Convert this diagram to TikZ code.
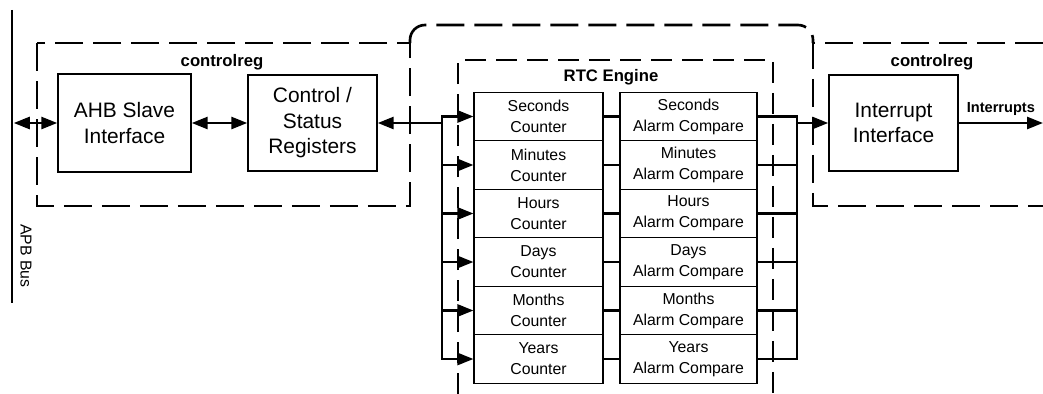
\documentclass[tikz,border=0pt]{standalone}
\usepackage{fontspec}
\setmainfont{Liberation Sans}
\usetikzlibrary{arrows.meta}

\begin{document}
\begin{tikzpicture}[scale=1,>={Triangle[length=0.32cm,width=0.24cm]},
  blk/.style={draw,line width=0.8pt,minimum width=2.58cm,minimum height=1.92cm,align=center,font=\fontsize{11.9}{14.5}\selectfont},
  cnt/.style={draw,line width=0.6pt,minimum width=2.58cm,minimum height=0.97cm,inner sep=0pt,align=center,font=\fontsize{9}{11.9}\selectfont},
  alm/.style={cnt,minimum width=2.74cm},
  tag/.style={font=\bfseries\fontsize{9.5}{11}\selectfont},
  dsh/.style={line width=1.5pt,dash pattern=on 0.56cm off 0.2cm},
  rtcdsh/.style={line width=1.5pt,dash pattern=on 0.42cm off 0.2cm},
  bus/.style={line width=1.5pt,line cap=rect}]

\useasboundingbox (0,0) rectangle (20.86,-7.88);

\draw[dsh] (0.74,-0.86) rectangle (8.2,-4.12);
\draw[dsh,rounded corners=0.3cm] (8.2,-0.86) -- (8.2,-0.5) -- (16.26,-0.5) -- (16.26,-0.86);
\draw[dsh] (20.86,-0.86) -- (16.26,-0.86) -- (16.26,-4.12) -- (20.86,-4.12);
\draw[rtcdsh] (9.16,-7.88) -- (9.16,-1.2) -- (15.46,-1.2) -- (15.46,-7.88);

\draw (4.44,-1.24) node[tag] (lreg) {controlreg};
\draw (18.64,-1.24) node[tag] (rreg) {controlreg};
\draw (12.22,-1.54) node[tag] (rtc) {RTC Engine};

\coordinate (bus) at (0.24,-0.2);
\coordinate (busend) at (0.24,-6.06);
\coordinate (lb) at (8.84,0);
\coordinate (rb) at (15.94,0);
\coordinate (out) at (20.86,-2.46);

\draw[line width=1.7pt] (bus) -- (busend);
\draw (0.52,-5.12) node[rotate=-90,font=\fontsize{9}{11}\selectfont] (apb) {APB Bus};

\draw (2.49,-2.46) node[blk,minimum width=2.66cm,minimum height=1.96cm] (ahb) {AHB Slave\\Interface};
\draw (6.25,-2.46) node[blk] (csr) {Control /\\Status\\Registers};
\draw (17.87,-2.46) node[blk] (irq) {Interrupt\\Interface};

\draw (10.77,-2.33) node[cnt] (sc) {Seconds\\Counter};
\draw (10.77,-3.30) node[cnt] (mc) {Minutes\\Counter};
\draw (10.77,-4.27) node[cnt] (hc) {Hours\\Counter};
\draw (10.77,-5.24) node[cnt] (dc) {Days\\Counter};
\draw (10.77,-6.21) node[cnt] (oc) {Months\\Counter};
\draw (10.77,-7.18) node[cnt] (yc) {Years\\Counter};

\draw (13.77,-2.33) node[alm] (sa) {Seconds\\Alarm Compare};
\draw (13.77,-3.30) node[alm] (ma) {Minutes\\Alarm Compare};
\draw (13.77,-4.27) node[alm] (ha) {Hours\\Alarm Compare};
\draw (13.77,-5.24) node[alm] (da) {Days\\Alarm Compare};
\draw (13.77,-6.21) node[alm] (oa) {Months\\Alarm Compare};
\draw (13.77,-7.18) node[alm] (ya) {Years\\Alarm Compare};

\draw[bus,<->,shorten <=1pt] (ahb.west -| bus) -- (ahb.west);
\draw[bus,<->] (ahb.east) -- (csr.west);
\draw[bus,<-] (csr.east) -- (csr.east -| lb);

\draw[bus] (sc.west -| lb) -- (yc.west -| lb);
\draw[bus,->] (sc.west -| lb) -- (sc.west);
\draw[bus,->] (mc.west -| lb) -- (mc.west);
\draw[bus,->] (hc.west -| lb) -- (hc.west);
\draw[bus,->] (dc.west -| lb) -- (dc.west);
\draw[bus,->] (oc.west -| lb) -- (oc.west);
\draw[bus,->] (yc.west -| lb) -- (yc.west);

\draw[bus] (sc.east) -- (sa.west);
\draw[bus] (mc.east) -- (ma.west);
\draw[bus] (hc.east) -- (ha.west);
\draw[bus] (dc.east) -- (da.west);
\draw[bus] (oc.east) -- (oa.west);
\draw[bus] (yc.east) -- (ya.west);

\draw[bus] (sa.east) -- (sa.east -| rb);
\draw[bus] (ma.east) -- (ma.east -| rb);
\draw[bus] (ha.east) -- (ha.east -| rb);
\draw[bus] (da.east) -- (da.east -| rb);
\draw[bus] (oa.east) -- (oa.east -| rb);
\draw[bus] (ya.east) -- (ya.east -| rb);
\draw[bus] (sa.east -| rb) -- (ya.east -| rb);

\draw[bus,->] (irq.west -| rb) -- (irq.west);
\draw[bus,->] (irq.east) -- (out) node[midway,above,font=\bfseries\fontsize{8.3}{10}\selectfont] {Interrupts};
\end{tikzpicture}
\end{document}
